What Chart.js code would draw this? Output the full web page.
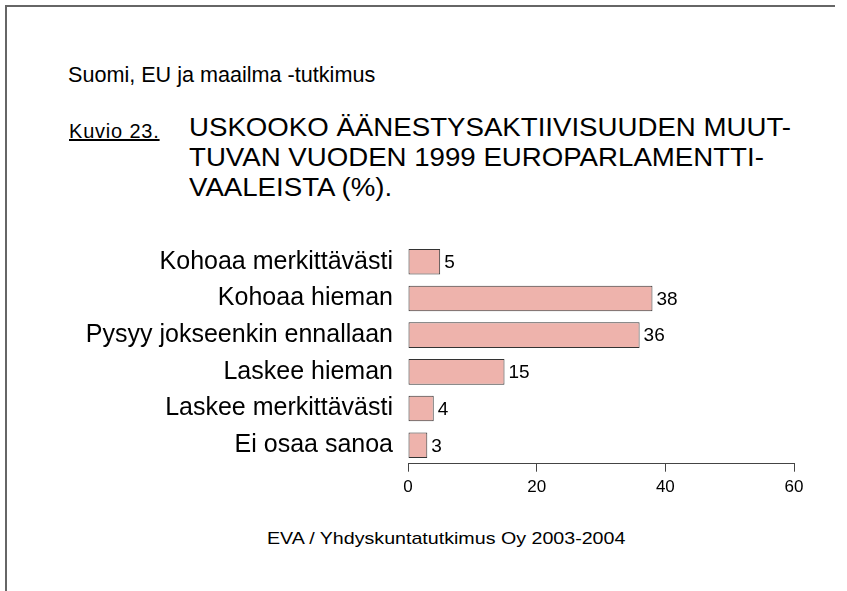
<!DOCTYPE html>
<html>
<head>
<meta charset="utf-8">
<script src="https://cdn.jsdelivr.net/npm/chart.js@4"></script>
<style>
  html, body { margin:0; padding:0; background:#fff; overflow:hidden; }
  body { width:847px; height:591px; position:relative;
         font-family:"Liberation Sans", Arial, sans-serif; color:#000; }
  .line { position:absolute; background:#666; }
  #lineTop { left:5px; top:5px; width:830px; height:2px; }
  #lineLeft { left:5px; top:5px; width:2px; height:586px; }
  .txt { position:absolute; white-space:nowrap; transform-origin:0 0; }
  #survey { left:68px; top:64px; font-size:21.6px; line-height:22px; }
  #kuvio { left:69px; top:121px; font-size:20px; line-height:20px; letter-spacing:0.8px; text-decoration:underline; }
  #title { left:189px; top:112px; font-size:26px; line-height:30px; transform:scaleX(1.063); }
  #source { left:267px; top:530px; font-size:17px; line-height:17px; transform:scaleX(1.155); }
  #wrap { position:absolute; left:0; top:230px; width:847px; height:280px; }
</style>
</head>
<body>
<div class="line" id="lineTop"></div>
<div class="line" id="lineLeft"></div>
<div class="txt" id="survey">Suomi, EU ja maailma -tutkimus</div>
<div class="txt" id="kuvio">Kuvio 23.</div>
<div class="txt" id="title">USKOOKO ÄÄNESTYSAKTIIVISUUDEN MUUT-<br>TUVAN VUODEN 1999 EUROPARLAMENTTI-<br>VAALEISTA (%).</div>
<div class="txt" id="source">EVA / Yhdyskuntatutkimus Oy 2003-2004</div>
<div id="wrap"><canvas id="chart"></canvas></div>

<script>
const categories = [
    "Kohoaa merkittävästi",
    "Kohoaa hieman",
    "Pysyy jokseenkin ennallaan",
    "Laskee hieman",
    "Laskee merkittävästi",
    "Ei osaa sanoa"
];
const percents = [5, 38, 36, 15, 4, 3];
const xTicks = [0, 20, 40, 60];

const valueLabels = {
    id: "valueLabels",
    afterDatasetsDraw(chart){
        const ctx = chart.ctx;
        const meta = chart.getDatasetMeta(0);
        ctx.save();
        ctx.font = "19px 'Liberation Sans', Arial, sans-serif";
        ctx.fillStyle = "#000";
        ctx.textAlign = "left";
        ctx.textBaseline = "middle";
        meta.data.forEach((bar, i) => {
            ctx.fillText(String(percents[i]), bar.x + 4, bar.y + 1);
        });
        ctx.restore();
    }
};

new Chart(
    document.getElementById("chart"),
    {
        type: "bar",
        data: {
            labels: categories,
            datasets: [{
                data: percents,
                backgroundColor: "#EEB3AC",
                borderColor: "#333",
                borderWidth: 1,
                borderSkipped: false,
                categoryPercentage: 1,
                barPercentage: 0.695
            }]
        },
        options: {
            indexAxis: "y",
            responsive: true,
            maintainAspectRatio: false,
            animation: false,
            layout: { padding: { top: 13.3, right: 53, left: 0, bottom: 0 } },
            plugins: {
                legend: { display: false },
                tooltip: { enabled: false }
            },
            scales: {
                x: {
                    min: 0,
                    max: 60,
                    afterFit(scale){ scale.height = 46.3; },
                    afterBuildTicks(scale){ scale.ticks = xTicks.map(v => ({ value: v })); },
                    grid: { drawOnChartArea: false, drawTicks: true, tickLength: 8, color: "#444" },
                    border: { color: "#444", width: 1 },
                    ticks: {
                        padding: 5,
                        color: "#000",
                        font: { family: "'Liberation Sans', Arial, sans-serif", size: 17 }
                    }
                },
                y: {
                    afterFit(scale){
                        scale.width = 408;
                        scale.paddingTop = 0;
                        scale.paddingBottom = 0;
                    },
                    grid: { display: false },
                    border: { display: false },
                    ticks: {
                        padding: 7,
                        color: "#000",
                        font: { family: "'Liberation Sans', Arial, sans-serif", size: 25 }
                    }
                }
            }
        },
        plugins: [valueLabels]
    }
);
</script>
</body>
</html>
